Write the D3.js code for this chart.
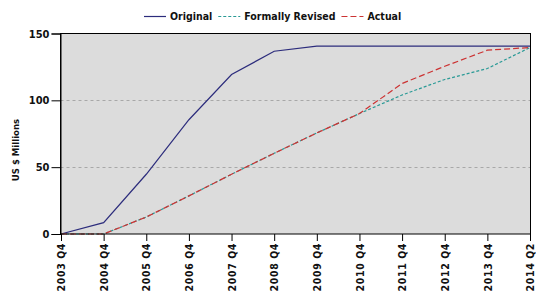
<!DOCTYPE html>
<html><head><meta charset="utf-8">
<script src="https://cdn.jsdelivr.net/npm/d3@7"></script>
<style>
body{margin:0;background:#fff;}
svg text{font-family:"DejaVu Sans Condensed","DejaVu Sans",sans-serif;font-weight:bold;fill:#111;}
</style></head>
<body><svg id="c" width="536" height="300"></svg>
<script>
const categories = ["2003 Q4","2004 Q4","2005 Q4","2006 Q4","2007 Q4","2008 Q4","2009 Q4","2010 Q4","2011 Q4","2012 Q4","2013 Q4","2014 Q2"];
const original = [0, 8.5, 44.7, 85.5, 119.3, 136.7, 140.5, 140.5, 140.5, 140.5, 140.5, 140.5];
const revised  = [0, 0, 12.7, 28.5, 44.7, 60.4, 75.6, 90.1, 104, 115.6, 123.8, 139.5];
const actual   = [0, 0, 12.7, 28.5, 44.7, 60.4, 75.6, 90.1, 112.6, 125.5, 137.5, 139.5];
const yTicks = [0, 50, 100, 150];
const seriesNames = ["Original", "Formally Revised", "Actual"];

const svg = d3.select("#c");
const L = 60.5, R = 530.5, T = 33.5, B = 234;
const x = d3.scalePoint().domain(categories).range([L + 0.5, R - 0.5]).padding(0);
const y = d3.scaleLinear().domain([0, 150]).range([B, T]);

// plot background
svg.append("rect").attr("x", L).attr("y", T).attr("width", R - L).attr("height", B - T)
  .attr("fill", "#dcdcdc");

// grid
svg.append("g").selectAll("line").data(yTicks.filter(d => d > 0 && d < 150)).join("line")
  .attr("x1", L).attr("x2", R).attr("y1", d => Math.round(y(d)) + 0.5).attr("y2", d => Math.round(y(d)) + 0.5)
  .attr("stroke", "#a8a8a8").attr("stroke-width", 1).attr("stroke-dasharray", "3,3");

// series
const series = [
  {name: seriesNames[0], values: original, color: "#2c2c7c", dash: null},
  {name: seriesNames[1], values: revised, color: "#2a9a96", dash: "3,2"},
  {name: seriesNames[2], values: actual, color: "#cc3333", dash: "6,3"}
];
const line = d3.line().x((d, i) => x(categories[i])).y(d => y(d));
series.forEach(s => {
  svg.append("path").datum(s.values).attr("d", line)
    .attr("fill", "none").attr("stroke", s.color).attr("stroke-width", 1.2)
    .attr("stroke-dasharray", s.dash);
});

// border
svg.append("rect").attr("x", L).attr("y", T).attr("width", R - L).attr("height", B - T)
  .attr("fill", "none").attr("stroke", "#000").attr("stroke-width", 1);

// y axis
const yAxis = d3.axisLeft(y).tickValues(yTicks).tickSize(9).tickPadding(2);
const gy = svg.append("g").attr("transform", `translate(${L},0)`).call(yAxis);
gy.select(".domain").attr("stroke", "#000");
gy.selectAll(".tick text").style("font-size", "11px").attr("fill", "#111");

// x axis
const xAxis = d3.axisBottom(x).tickSize(7).tickPadding(3);
const gx = svg.append("g").attr("transform", `translate(0,${B})`).call(xAxis);
gx.select(".domain").remove();
gx.selectAll(".tick text")
  .style("font-size", "10.5px").style("letter-spacing", "0.6px")
  .attr("transform", "rotate(-90)")
  .attr("text-anchor", "end")
  .attr("x", -9).attr("y", 0).attr("dy", "0.35em");

// y label
svg.append("text").attr("transform", "translate(16,150) rotate(-90)")
  .attr("text-anchor", "middle").attr("dy", "0.35em")
  .style("font-size", "9.5px").text("US $ Millions");

// legend
const leg = svg.append("g");
let cx = 144;
series.forEach(s => {
  leg.append("line").attr("x1", cx).attr("x2", cx + 22).attr("y1", 16.5).attr("y2", 16.5)
    .attr("stroke", s.color).attr("stroke-width", 1.2).attr("stroke-dasharray", s.dash);
  const t = leg.append("text").attr("x", cx + 26).attr("y", 16).attr("dy", "0.35em")
    .style("font-size", "10.5px").text(s.name);
  cx = cx + 26 + t.node().getComputedTextLength() + 6;
});
</script></body></html>
